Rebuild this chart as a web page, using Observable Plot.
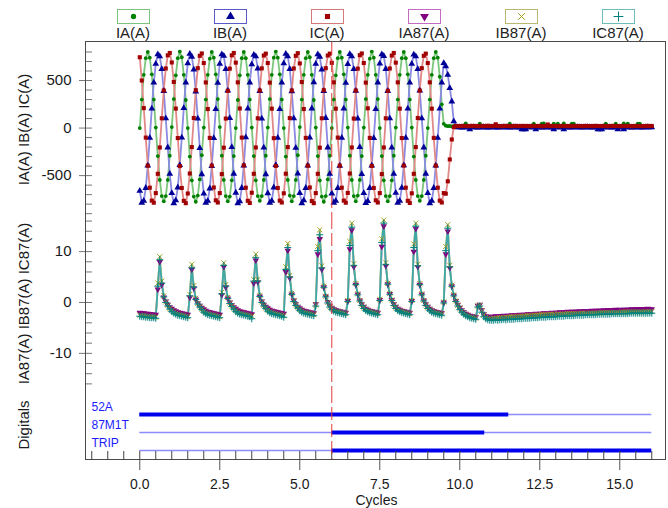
<!DOCTYPE html>
<html><head><meta charset="utf-8">
<script src="https://cdn.jsdelivr.net/npm/d3@7"></script>
<script src="https://cdn.jsdelivr.net/npm/@observablehq/plot@0.6"></script>
<style>
body{margin:0;background:#fff;font-family:"Liberation Sans",Arial,sans-serif;}
#chart{position:relative;width:668px;height:508px;overflow:hidden;background:#fff;}
#chart svg.panel{position:absolute;left:0;}
#frame{position:absolute;left:85px;top:41px;width:581px;height:419px;border:1px solid #4a4a4a;box-sizing:border-box;pointer-events:none;z-index:5;}
.leg{position:absolute;top:9px;width:100px;margin-left:-50px;text-align:center;font-size:15px;line-height:17px;color:#222;}
.leg .box{width:33px;height:15px;border:1px solid;box-sizing:border-box;margin:0 auto;background:#fff;}
.leg .box svg{display:block;}
</style></head>
<body>
<div id="chart"><div id="frame"></div></div>
<script>
// ---------------- data ----------------
const samplesPerCycle = 16;

const IA = [
0,300,560,735,800,740,565,300,5,-295,-545,-715,-770,-715,-545,-290,
10,305,555,735,805,745,560,295,0,-300,-550,-720,-775,-710,-540,-285,
5,300,560,730,800,740,565,305,10,-290,-545,-715,-770,-720,-550,-295,
0,295,555,735,800,735,560,300,5,-295,-550,-715,-765,-715,-545,-290,
5,305,560,740,805,740,565,300,0,-300,-545,-710,-770,-715,-545,-285,
10,300,560,735,800,745,560,295,5,-295,-550,-720,-775,-715,-540,-290,
0,300,555,735,800,740,565,300,5,-290,-545,-715,-770,-710,-545,-295,
5,305,560,730,805,740,560,305,0,-295,-550,-715,-770,-715,-550,-290,
5,300,560,735,800,735,565,300,5,-300,-545,-715,-765,-715,-545,-290,
0,300,560,735,800,740,540,250,45,25,20,22,18,24,20,22,
20,22,19,48,21,23,20,18,22,20,47,21,19,22,20,23,
21,19,22,20,23,21,20,18,22,46,21,20,22,19,21,23,
20,22,19,21,20,47,22,20,21,46,48,20,22,19,21,47,
20,46,21,22,48,20,19,22,47,46,21,20,22,19,21,20,
22,20,21,19,22,20,21,23,20,47,21,19,22,20,46,21,
20,22,48,21,47,20,22,19,21,46,47,21,20,22,19,21,
20];

const IB = [
-660,-785,-765,-630,-395,-103,204,478,675,775,755,620,390,103,-204,-481,
-684,-790,-760,-625,-390,-100,210,480,680,780,750,615,385,100,-210,-485,
-690,-785,-765,-635,-400,-105,200,475,675,775,760,620,395,105,-200,-480,
-680,-790,-770,-630,-395,-98,205,480,670,770,755,625,390,100,-205,-485,
-685,-785,-765,-625,-390,-103,200,478,680,780,755,620,388,103,-208,-478,
-684,-790,-760,-630,-395,-100,206,482,675,775,750,615,390,106,-204,-481,
-688,-785,-765,-632,-398,-103,204,475,672,778,755,620,392,100,-200,-484,
-684,-788,-768,-630,-395,-105,200,480,678,775,758,622,390,103,-206,-481,
-682,-785,-765,-628,-392,-103,204,478,675,772,755,620,395,103,-204,-480,
-684,-790,-765,-630,-395,-103,204,478,684,650,560,420,280,70,12,8,
8,6,9,7,8,-12,7,9,8,6,8,7,9,8,6,8,
7,9,8,6,8,7,9,8,7,6,8,9,7,8,6,-12,
-13,-12,8,7,9,8,-12,7,8,6,9,8,7,8,6,-12,
8,7,9,8,-12,7,8,6,9,8,7,9,8,6,8,7,
9,8,6,8,7,-12,-13,-12,8,7,9,8,6,8,7,-12,
7,8,-12,9,7,8,6,8,7,9,8,6,8,7,9,8,
7];

const IC = [
745,500,210,-100,-395,-627,-763,-785,-684,-481,-204,103,395,627,765,790,
690,485,205,-105,-400,-630,-765,-790,-688,-478,-200,106,398,630,760,785,
684,480,200,-103,-395,-625,-760,-783,-684,-484,-206,100,392,625,765,790,
688,481,206,-100,-392,-627,-765,-788,-680,-481,-204,103,395,628,763,783,
684,478,204,-106,-398,-630,-763,-783,-686,-480,-200,105,395,627,760,788,
680,484,200,-103,-395,-625,-768,-790,-684,-481,-206,103,398,630,763,783,
686,481,204,-100,-395,-627,-763,-785,-682,-478,-204,100,395,625,766,785,
684,478,208,-103,-398,-630,-760,-783,-684,-484,-204,103,392,627,763,790,
688,481,204,-105,-395,-627,-765,-788,-686,-481,-200,106,395,630,760,783,
684,481,204,-103,-395,-627,-763,-783,-684,-690,-560,-330,-120,10,22,20,
22,21,23,22,20,22,23,21,22,20,22,23,21,22,24,22,
21,22,40,22,20,21,22,23,22,21,20,22,23,21,22,22,
23,21,22,20,22,23,21,22,22,20,21,23,38,21,22,23,
22,20,21,22,23,21,22,20,22,23,21,22,22,20,21,23,
22,21,22,20,23,22,21,22,23,21,20,22,22,23,21,22,
20,22,23,21,22,22,20,21,23,22,21,22,20,22,23,21,
22];

const IA87 = [
-2.0,-2.1,-2.1,-2.2,-2.2,-2.3,-2.3,-2.4,-2.4,2.6,8.0,3.5,1.0,0.2,-0.4,-0.9,
-1.2,-1.5,-1.7,-1.9,-2.0,-2.1,-2.2,-2.3,-2.4,1.0,6.5,2.8,0.6,-0.1,-0.6,-1.0,
-1.3,-1.6,-1.8,-1.9,-2.0,-2.1,-2.2,-2.3,-2.4,1.5,7.0,3.0,0.8,0.0,-0.5,-0.9,
-1.2,-1.5,-1.7,-1.8,-1.9,-2.0,-2.1,-2.2,-2.3,3.8,8.3,4.0,1.2,0.2,-0.4,-0.8,
-1.1,-1.4,-1.6,-1.7,-1.8,-1.9,-2.0,-2.1,-2.2,6.0,10.2,4.8,1.6,0.4,-0.3,-0.8,
-1.1,-1.4,-1.6,-1.7,-1.8,-1.9,-2.0,-2.1,-0.3,9.5,12.5,6.5,3.0,1.2,0.1,-0.6,
-1.0,-1.3,-1.5,-1.6,-1.7,-1.8,-1.9,-2.0,0.3,10.5,14.2,7.0,3.5,1.6,0.4,-0.3,
-0.8,-1.2,-1.4,-1.6,-1.7,-1.8,-1.9,-2.0,0.5,11.0,15.0,7.2,3.6,1.7,0.5,-0.3,
-0.8,-1.2,-1.4,-1.6,-1.7,-1.8,-1.9,-2.0,0.3,10.0,14.5,7.0,3.5,1.6,0.4,-0.3,
-0.8,-1.2,-1.5,-1.7,-1.8,-1.9,-2.0,-2.1,0.0,9.5,14.0,6.8,3.2,1.4,0.3,-0.4,
-1.0,-1.5,-1.9,-2.2,-2.4,-2.6,-2.7,-2.8,-2.9,-0.6,-0.4,-1.5,-2.3,-2.7,-2.8,-2.9,
-2.8,-2.8,-2.7,-2.8,-2.7,-2.7,-2.6,-2.7,-2.6,-2.6,-2.5,-2.6,-2.5,-2.5,-2.4,-2.5,
-2.4,-2.4,-2.3,-2.4,-2.3,-2.3,-2.2,-2.3,-2.2,-2.2,-2.1,-2.2,-2.1,-2.1,-2.0,-2.1,
-2.0,-2.0,-1.9,-2.0,-1.9,-1.9,-1.8,-1.9,-1.8,-1.8,-1.8,-1.8,-1.7,-1.8,-1.7,-1.7,
-1.7,-1.7,-1.6,-1.7,-1.6,-1.6,-1.6,-1.6,-1.5,-1.6,-1.5,-1.5,-1.5,-1.5,-1.4,-1.5,
-1.4,-1.5,-1.4,-1.4,-1.4,-1.4,-1.3,-1.4,-1.3,-1.3,-1.3,-1.3,-1.3,-1.3,-1.2,-1.3,
-1.3];

const IB87 = [
-2.5,-2.6,-2.6,-2.7,-2.7,-2.8,-2.8,-2.8,-2.9,3.8,9.0,4.2,1.3,0.1,-0.6,-1.2,
-1.6,-1.9,-2.1,-2.3,-2.4,-2.5,-2.6,-2.7,-2.8,1.6,7.5,3.3,0.8,-0.2,-0.8,-1.3,
-1.7,-2.0,-2.2,-2.3,-2.4,-2.5,-2.6,-2.7,-2.8,2.0,7.8,3.5,1.0,-0.1,-0.7,-1.2,
-1.6,-1.9,-2.1,-2.2,-2.3,-2.4,-2.5,-2.6,-2.7,4.5,9.5,4.5,1.4,0.1,-0.6,-1.1,
-1.5,-1.8,-2.0,-2.1,-2.2,-2.3,-2.4,-2.5,-2.6,7.0,11.6,5.3,1.8,0.3,-0.5,-1.0,
-1.4,-1.7,-1.9,-2.0,-2.1,-2.2,-2.3,-2.4,-0.5,11.0,14.3,7.2,3.2,1.2,0.0,-0.8,
-1.2,-1.5,-1.7,-1.8,-1.9,-2.0,-2.1,-2.2,0.4,12.0,15.6,7.6,3.7,1.7,0.4,-0.5,
-1.0,-1.4,-1.6,-1.8,-1.9,-2.0,-2.1,-2.2,0.6,12.5,16.2,7.8,3.8,1.8,0.5,-0.5,
-1.0,-1.4,-1.6,-1.8,-1.9,-2.0,-2.1,-2.2,0.4,11.5,15.6,7.5,3.7,1.7,0.4,-0.5,
-1.0,-1.4,-1.7,-1.9,-2.0,-2.1,-2.2,-2.3,0.1,11.0,15.3,7.3,3.4,1.5,0.3,-0.6,
-1.2,-1.7,-2.1,-2.4,-2.6,-2.8,-2.9,-3.0,-3.1,-0.7,-0.5,-1.7,-2.5,-2.9,-3.1,-3.2,
-3.2,-3.1,-3.1,-3.1,-3.0,-3.0,-3.0,-2.9,-2.9,-2.9,-2.8,-2.8,-2.8,-2.8,-2.7,-2.7,
-2.7,-2.7,-2.6,-2.6,-2.6,-2.5,-2.5,-2.5,-2.5,-2.4,-2.4,-2.4,-2.4,-2.3,-2.3,-2.3,
-2.4,-2.3,-2.3,-2.3,-2.3,-2.3,-2.2,-2.2,-2.2,-2.2,-2.2,-2.2,-2.2,-2.1,-2.1,-2.1,
-2.2,-2.1,-2.1,-2.1,-2.1,-2.1,-2.1,-2.0,-2.0,-2.0,-2.0,-2.0,-2.0,-2.0,-2.0,-2.0,
-2.0,-1.9,-1.9,-1.9,-1.9,-1.9,-1.9,-1.9,-1.9,-1.9,-1.9,-1.9,-1.9,-1.8,-1.9,-1.8,
-1.8];

const IC87 = [
-2.7,-2.8,-2.8,-2.9,-2.9,-3.0,-3.0,-3.0,-3.1,3.2,8.4,3.8,1.1,0.0,-0.7,-1.3,
-1.8,-2.1,-2.3,-2.5,-2.6,-2.7,-2.8,-2.9,-3.0,1.3,6.8,3.0,0.6,-0.3,-0.9,-1.4,
-1.9,-2.2,-2.4,-2.5,-2.6,-2.7,-2.8,-2.9,-3.0,1.7,7.3,3.2,0.8,-0.2,-0.8,-1.3,
-1.8,-2.1,-2.3,-2.4,-2.5,-2.6,-2.7,-2.8,-3.2,4.2,8.8,4.2,1.2,0.0,-0.7,-1.2,
-1.7,-2.0,-2.2,-2.3,-2.4,-2.5,-2.6,-2.7,-2.9,6.5,10.8,5.0,1.6,0.2,-0.6,-1.1,
-1.6,-1.9,-2.1,-2.2,-2.3,-2.4,-2.5,-2.6,-0.7,10.2,13.3,6.8,3.0,1.1,-0.1,-0.9,
-1.4,-1.7,-1.9,-2.0,-2.1,-2.2,-2.3,-2.4,0.2,11.2,14.8,7.3,3.5,1.5,0.3,-0.6,
-1.2,-1.6,-1.8,-2.0,-2.1,-2.2,-2.3,-2.4,0.4,11.8,15.6,7.5,3.6,1.6,0.4,-0.6,
-1.2,-1.6,-1.8,-2.0,-2.1,-2.2,-2.3,-2.4,0.2,10.8,15.0,7.2,3.5,1.5,0.3,-0.6,
-1.2,-1.6,-1.9,-2.1,-2.2,-2.3,-2.4,-2.5,-0.1,10.2,14.6,7.0,3.2,1.3,0.2,-0.7,
-1.4,-1.9,-2.3,-2.6,-2.8,-3.0,-3.1,-3.2,-3.3,-0.9,-0.7,-1.9,-2.8,-3.2,-3.4,-3.5,
-3.5,-3.5,-3.4,-3.5,-3.4,-3.4,-3.3,-3.4,-3.3,-3.3,-3.3,-3.3,-3.2,-3.2,-3.2,-3.2,
-3.1,-3.1,-3.1,-3.1,-3.0,-3.0,-3.0,-3.0,-2.9,-2.9,-2.9,-2.9,-2.8,-2.8,-2.8,-2.8,
-2.8,-2.7,-2.7,-2.7,-2.7,-2.6,-2.6,-2.6,-2.6,-2.6,-2.5,-2.5,-2.5,-2.5,-2.5,-2.4,
-2.4,-2.4,-2.4,-2.4,-2.4,-2.3,-2.3,-2.3,-2.3,-2.3,-2.3,-2.3,-2.2,-2.2,-2.2,-2.2,
-2.2,-2.2,-2.2,-2.2,-2.2,-2.1,-2.1,-2.1,-2.1,-2.1,-2.1,-2.1,-2.1,-2.1,-2.1,-2.1,
-2.1];

const digitalNames = ["52A", "87M1T", "TRIP"];
const digitalOnStart = [0.0, 6.0, 6.0];
const digitalOnEnd = [11.53, 10.78, 16.0];
const triggerCycle = [6.0];

const xTickLabels = [0, 2.5, 5, 7.5, 10, 12.5, 15];
const xMinorTicks = [-1.5,-1,-0.5,0,0.5,1,1.5,2,2.5,3,3.5,4,4.5,5,5.5,6,6.5,7,7.5,8,8.5,9,9.5,10,10.5,11,11.5,12,12.5,13,13.5,14,14.5,15,15.5,16];
const yTopLabels = [-500, 0, 500];
const yTopMinor = [-900,-800,-700,-600,-500,-400,-300,-200,-100,0,100,200,300,400,500,600,700,800];
const yMidLabels = [-10, 0, 10];
const yMidMinor = [-16,-14,-12,-10,-8,-6,-4,-2,0,2,4,6,8,10,12,14,16];

// ---------------- drawing ----------------
const time = IA.map((_, i) => i / samplesPerCycle);
const font = "'Liberation Sans', Arial, sans-serif";
const xDomain = [-1.665, 16.46];

const sqrt3 = Math.sqrt(3);
const triangleDown = {
  draw(context, size) {
    const y = -Math.sqrt(size / (sqrt3 * 3));
    context.moveTo(0, -y * 2);
    context.lineTo(-sqrt3 * y, y);
    context.lineTo(sqrt3 * y, y);
    context.closePath();
  }
};

const topSeries = [
  {label: "IA(A)", values: IA, mark: "#008000", line: "#7cc67c", box: "#7cc27c", symbol: "circle", d3sym: d3.symbolCircle, r: 1.9, legSize: 22, filled: true},
  {label: "IB(A)", values: IB, mark: "#000099", line: "#8a8ae2", box: "#5a5ac8", symbol: "triangle", d3sym: d3.symbolTriangle, r: 2.5, legSize: 34, filled: true},
  {label: "IC(A)", values: IC, mark: "#a00000", line: "#e28888", box: "#d47a7a", symbol: "square", d3sym: d3.symbolSquare, r: 2.3, legSize: 26, filled: true}
];
const midSeries = [
  {label: "IA87(A)", values: IA87, mark: "#800080", line: "#bb7cbb", box: "#c46cc4", symbol: triangleDown, d3sym: triangleDown, r: 2.4, legSize: 34, filled: true},
  {label: "IB87(A)", values: IB87, mark: "#a0a020", line: "#c8c87a", box: "#b8b870", symbol: "times", d3sym: d3.symbolTimes, r: 2.4, legSize: 30, filled: false},
  {label: "IC87(A)", values: IC87, mark: "#008080", line: "#3fa9a9", box: "#6cbcbc", symbol: "plus", d3sym: d3.symbolPlus, r: 2.4, legSize: 34, filled: false}
];

function seriesMarks(series) {
  const out = [];
  for (const s of series) {
    out.push(Plot.line(s.values, {x: (d, i) => time[i], y: d => d, stroke: s.line, strokeWidth: 1.8}));
  }
  for (const s of series) {
    out.push(Plot.dot(s.values, s.filled
      ? {x: (d, i) => time[i], y: d => d, symbol: s.symbol, r: s.r, fill: s.mark, stroke: "none"}
      : {x: (d, i) => time[i], y: d => d, symbol: s.symbol, r: s.r, fill: "none", stroke: s.mark, strokeWidth: 1}));
  }
  return out;
}

const style = {overflow: "visible", background: "transparent", fontFamily: font, fontSize: "15px", color: "#1a1a1a"};
const common = {width: 668, marginLeft: 86, marginRight: 2, marginTop: 0, style};
const trigger = Plot.ruleX(triggerCycle, {x: d => d, stroke: "#e23b3b", strokeWidth: 1, strokeDasharray: "13,4"});
const yLabel = (txt) => Plot.text([txt], {text: d => d, frameAnchor: "left", textAnchor: "middle", lineAnchor: "middle", rotate: -90, dx: -62, fontSize: 15});

const p1 = Plot.plot({
  ...common, height: 174, marginBottom: 0,
  x: {domain: xDomain, axis: null},
  y: {domain: [-930, 900], label: null},
  marks: [
    Plot.tickY(yTopMinor, {y: d => d, insetRight: 574, stroke: "#777"}),
    Plot.axisY(yTopLabels, {tickSize: 7, tickPadding: 8, stroke: "#777", label: null, tickFormat: d => `${d}`, fontSize: 15}),
    yLabel("IA(A) IB(A) IC(A)"),
    ...seriesMarks(topSeries),
    trigger
  ]
});

const p2 = Plot.plot({
  ...common, height: 174, marginBottom: 0,
  x: {domain: xDomain, axis: null},
  y: {domain: [-17.3, 16.9], label: null},
  marks: [
    Plot.tickY(yMidMinor, {y: d => d, insetRight: 574, stroke: "#777"}),
    Plot.axisY(yMidLabels, {tickSize: 7, tickPadding: 8, stroke: "#777", label: null, tickFormat: d => `${d}`, fontSize: 15}),
    yLabel("IA87(A) IB87(A) IC87(A)"),
    ...seriesMarks(midSeries),
    trigger
  ]
});

const digitalRows = digitalNames.map((name, i) => ({name, start: digitalOnStart[i], end: digitalOnEnd[i]}));
const p3 = Plot.plot({
  ...common, height: 118, marginBottom: 49,
  x: {domain: xDomain},
  y: {type: "point", domain: digitalNames, range: [24, 60], padding: 0, axis: null},
  marks: [
    Plot.ruleY(digitalNames, {y: d => d, x1: () => time[0], x2: () => time[time.length - 1], stroke: "#8c8cff", strokeWidth: 1.5}),
    Plot.ruleY(digitalRows, {y: "name", x1: "start", x2: "end", stroke: "#0000ee", strokeWidth: 4}),
    Plot.text(digitalNames, {text: d => d, y: d => d, frameAnchor: "left", textAnchor: "start", dx: 5, dy: -7, fill: "#1c1cff", fontSize: 12}),
    yLabel("Digitals"),
    Plot.tickX(xMinorTicks, {x: d => d, insetTop: 61, stroke: "#444"}),
    Plot.axisX(xTickLabels, {tickSize: 11, tickPadding: 9, stroke: "#555", label: null, tickFormat: d3.format(".1f"), fontSize: 14}),
    Plot.text(["Cycles"], {text: d => d, frameAnchor: "bottom", dy: 45, fontSize: 14}),
    trigger
  ]
});

const chart = document.getElementById("chart");
[[p1, 42], [p2, 216], [p3, 390]].forEach(([svg, top]) => {
  svg.classList.add("panel");
  svg.style.top = top + "px";
  chart.appendChild(svg);
});

// legend
const legendCenters = [133, 230, 327, 424, 521, 618];
[...topSeries, ...midSeries].forEach((s, i) => {
  const item = document.createElement("div");
  item.className = "leg";
  item.style.left = legendCenters[i] + "px";
  const path = d3.symbol(s.d3sym, s.legSize)();
  const fill = s.filled ? s.mark : "none";
  const stroke = s.filled ? "none" : s.mark;
  item.innerHTML = `<div class="box" style="border-color:${s.box}"><svg width="31" height="13"><path transform="translate(15.5,6.5)" d="${path}" fill="${fill}" stroke="${stroke}" stroke-width="1"/></svg></div><div>${s.label}</div>`;
  chart.appendChild(item);
});
</script>
</body></html>
